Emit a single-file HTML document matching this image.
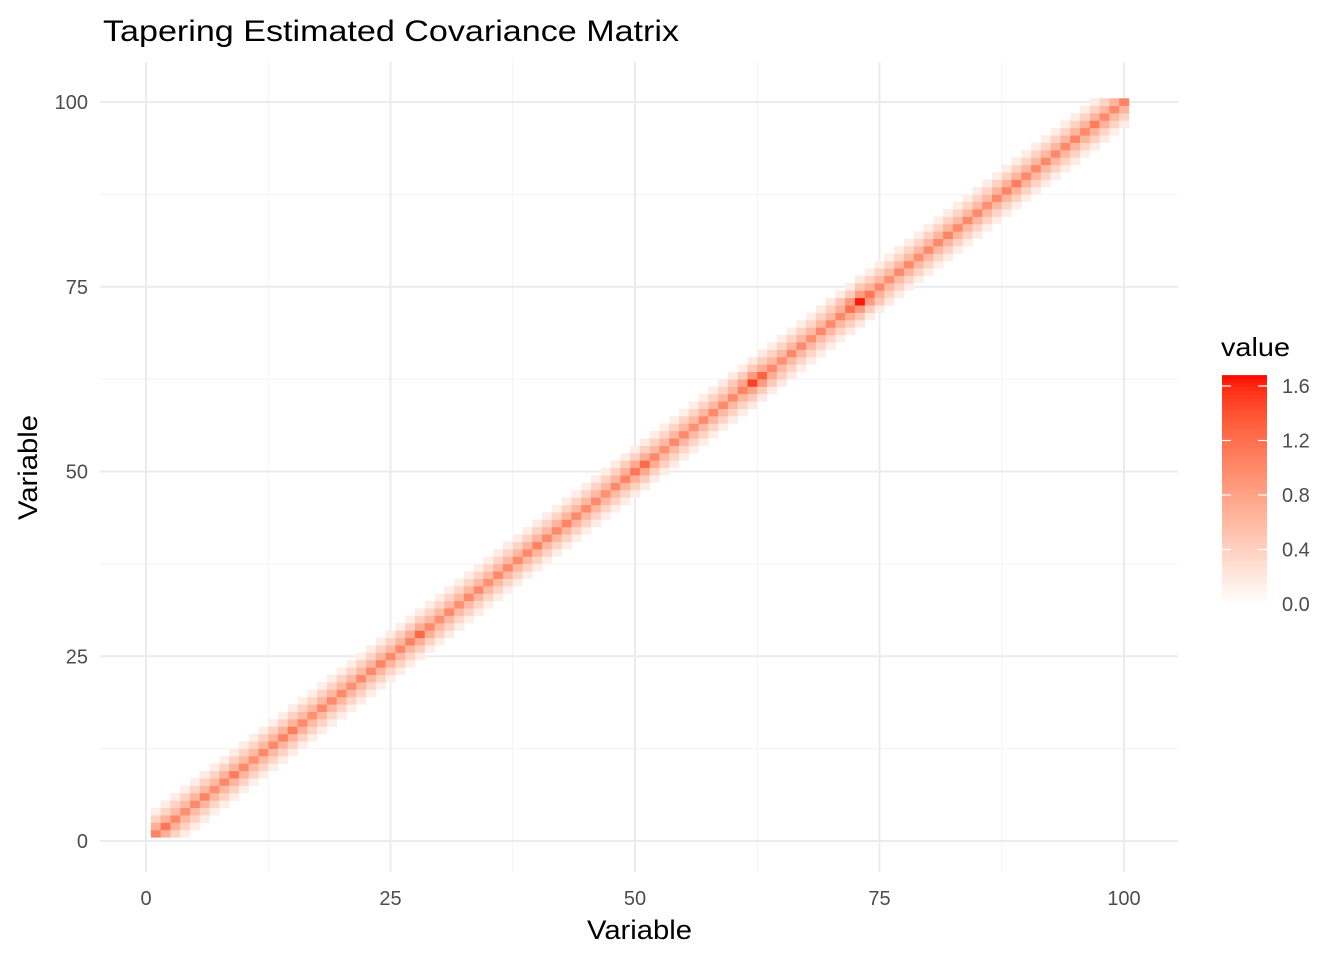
<!DOCTYPE html>
<html><head><meta charset="utf-8"><style>
body{margin:0;background:#fff;font-family:"Liberation Sans",Arial,sans-serif;}
svg text{font-family:"Liberation Sans",Arial,sans-serif;}
</style></head><body>
<svg id="c" width="1344" height="960" xmlns="http://www.w3.org/2000/svg">
<text x="103" y="41" font-size="30" textLength="576" lengthAdjust="spacingAndGlyphs" fill="#000">Tapering Estimated Covariance Matrix</text>
<g id="grid"></g>
<g id="tiles"></g>
<g id="axes"></g>
<text x="587" y="939" font-size="27" textLength="105" lengthAdjust="spacingAndGlyphs" fill="#000">Variable</text>
<text transform="translate(37,520) rotate(-90)" font-size="27" textLength="105" lengthAdjust="spacingAndGlyphs" fill="#000">Variable</text>
<g id="legend"></g>
</svg>
<script>
const diag=[1.05,1.15,1.0,0.95,1.0,1.05,0.95,1.0,1.1,1.0,
0.95,1.0,1.0,1.05,1.1,1.0,0.95,1.0,1.0,1.0,
0.95,1.0,1.0,1.05,1.0,1.0,1.05,1.25,1.0,0.95,
1.0,0.95,1.0,1.0,0.95,1.0,1.0,1.0,1.0,1.05,
1.0,1.0,1.05,1.0,1.0,1.0,0.95,1.0,1.05,1.15,
1.25,1.0,0.95,1.0,1.0,0.95,1.0,1.0,1.0,1.0,
1.05,1.5,1.3,1.0,0.95,1.0,1.0,0.95,1.0,1.0,
1.0,1.2,1.65,1.15,1.0,0.95,1.0,1.0,0.95,1.0,
1.0,1.05,1.0,1.0,1.0,0.95,1.0,1.05,1.1,1.0,
1.0,1.0,1.0,1.0,1.05,1.0,1.1,1.0,1.0,1.05];
const taper=[1,0.62,0.38,0.16];
const xTicks=[0,25,50,75,100];
const legendTicks=[0.0,0.4,0.8,1.2,1.6];
const vmax=1.68;
const NS='http://www.w3.org/2000/svg';
const X=v=>146+v*9.78, Y=v=>841-v*7.39;
function el(t,a,p){const e=document.createElementNS(NS,t);for(const k in a)e.setAttribute(k,a[k]);p.appendChild(e);return e;}
function toLab(r,g,b){const f=c=>{c/=255;return c>0.04045?Math.pow((c+0.055)/1.055,2.4):c/12.92};
r=f(r);g=f(g);b=f(b);let x=(r*0.4124+g*0.3576+b*0.1805)/0.95047,y=r*0.2126+g*0.7152+b*0.0722,z=(r*0.0193+g*0.1192+b*0.9505)/1.08883;
const h=t=>t>0.008856?Math.cbrt(t):7.787*t+16/116;x=h(x);y=h(y);z=h(z);return[116*y-16,500*(x-y),200*(y-z)];}
function fromLab(L,a,bb){let y=(L+16)/116,x=a/500+y,z=y-bb/200;const h=t=>t*t*t>0.008856?t*t*t:(t-16/116)/7.787;
x=h(x)*0.95047;y=h(y);z=h(z)*1.08883;let r=x*3.2406+y*-1.5372+z*-0.4986,g=x*-0.9689+y*1.8758+z*0.0415,b=x*0.0557+y*-0.2040+z*1.0570;
const f=c=>{c=c>0.0031308?1.055*Math.pow(c,1/2.4)-0.055:12.92*c;return Math.round(Math.max(0,Math.min(1,c))*255)};return`rgb(${f(r)},${f(g)},${f(b)})`;}
const LW=toLab(255,255,255),LR=toLab(255,0,0);
function col(v){const t=Math.max(0,Math.min(1,v/vmax));return fromLab(LW[0]+(LR[0]-LW[0])*t,LW[1]+(LR[1]-LW[1])*t,LW[2]+(LR[2]-LW[2])*t);}
const grid=document.getElementById('grid');
[12.5,37.5,62.5,87.5].forEach(v=>{
let l=el('line',{x1:X(v),x2:X(v),y1:62,y2:872,stroke:'#F3F3F3','stroke-width':1},grid);


l=el('line',{x1:100,x2:1178,y1:Y(v),y2:Y(v),stroke:'#F3F3F3','stroke-width':1},grid);

});
xTicks.forEach(v=>{
let l=el('line',{x1:X(v),x2:X(v),y1:62,y2:872,stroke:'#EBEBEB','stroke-width':2},grid);


l=el('line',{x1:100,x2:1178,y1:Y(v),y2:Y(v),stroke:'#EBEBEB','stroke-width':2},grid);

});
const tiles=document.getElementById('tiles');
for(let i=1;i<=100;i++)for(let j=1;j<=100;j++){const k=Math.abs(i-j);if(k>=taper.length)continue;
const v=taper[k]*Math.sqrt(diag[i-1]*diag[j-1]);
const r=el('rect',{x:X(i-0.5),y:Y(j+0.5),width:X(i+0.5)-X(i-0.5)+0.3,height:Y(j-0.5)-Y(j+0.5)+0.3,fill:col(v)},tiles);

}
const axes=document.getElementById('axes');
xTicks.forEach(v=>{
let t=el('text',{x:X(v),y:905,'font-size':20,'text-anchor':'middle',fill:'#4D4D4D'},axes);t.textContent=v;


t=el('text',{x:88,y:Y(v)+7,'font-size':20,'text-anchor':'end',fill:'#4D4D4D'},axes);t.textContent=v;

});
const lg=document.getElementById('legend');
let tt=el('text',{x:1221,y:356,'font-size':26,textLength:69,lengthAdjust:'spacingAndGlyphs',fill:'#000'},lg);tt.textContent='value';


const LY=v=>604-v*(604-386)/1.6;
for(let k=0;k<60;k++){const v0=vmax*k/60,v1=vmax*(k+1)/60;
const r=el('rect',{x:1222,y:LY(v1),width:45,height:LY(v0)-LY(v1)+0.5,fill:col((v0+v1)/2)},lg);

}
legendTicks.forEach(v=>{
let l=el('line',{x1:1222,x2:1231,y1:LY(v),y2:LY(v),stroke:'#fff','stroke-width':1.2},lg);


l=el('line',{x1:1258,x2:1267,y1:LY(v),y2:LY(v),stroke:'#fff','stroke-width':1.2},lg);


const t=el('text',{x:1282,y:LY(v)+7,'font-size':20,fill:'#4D4D4D'},lg);t.textContent=v.toFixed(1);

});
</script>
</body></html>
